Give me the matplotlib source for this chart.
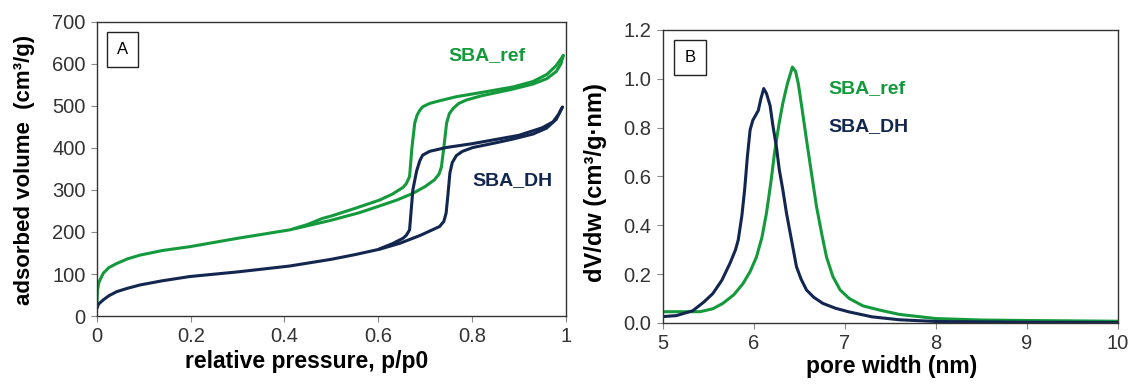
import matplotlib
matplotlib.use("Agg")
from matplotlib import pyplot as plt

plt.rcParams['font.family'] = ['Liberation Sans', 'DejaVu Sans']

GREEN = "#149a3c"
NAVY = "#12264f"

# isotherms (A) - adsorption and desorption branches
ref_ads_p = [0.0, 0.001, 0.004, 0.0135, 0.025, 0.042, 0.065, 0.092, 0.14, 0.198, 0.3, 0.411, 0.5, 0.56, 0.603, 0.64,
             0.674, 0.70, 0.72, 0.73, 0.735, 0.74, 0.746, 0.752, 0.76, 0.772, 0.788, 0.82, 0.887, 0.93, 0.96, 0.98, 0.99, 0.995]
ref_ads_v = [30, 60, 80, 102, 115, 125, 136, 145, 156, 165, 185, 205, 228, 246, 262, 276,
             292, 308, 324, 338, 355, 400, 459, 482, 494, 506, 514, 524, 540, 552, 565, 582, 600, 620]
ref_des_p = [0.995, 0.99, 0.98, 0.96, 0.93, 0.887, 0.82, 0.767, 0.73, 0.71, 0.695, 0.689, 0.683, 0.678, 0.672,
             0.667, 0.66, 0.653, 0.63, 0.603, 0.55, 0.5, 0.48, 0.45, 0.42]
ref_des_v = [620, 612, 596, 575, 558, 545, 532, 522, 512, 506, 498, 490, 478, 459, 400,
             332, 315, 306, 290, 276, 256, 238, 232, 218, 208]

dh_ads_p = [0.0, 0.003, 0.013, 0.025, 0.042, 0.065, 0.092, 0.14, 0.198, 0.3, 0.411, 0.5, 0.55, 0.603, 0.646, 0.69,
            0.731, 0.74, 0.745, 0.749, 0.753, 0.758, 0.767, 0.78, 0.802, 0.85, 0.887, 0.93, 0.959, 0.98, 0.993]
dh_ads_v = [18, 28, 38, 48, 58, 66, 74, 84, 94, 105, 119, 135, 146, 159, 173, 192,
            213, 225, 245, 290, 340, 365, 382, 392, 401, 412, 421, 433, 447, 468, 497]
dh_des_p = [0.993, 0.985, 0.973, 0.95, 0.9, 0.85, 0.8, 0.745, 0.71, 0.695, 0.689, 0.682, 0.674, 0.667, 0.66,
            0.653, 0.63, 0.603]
dh_des_v = [497, 480, 462, 448, 430, 420, 410, 401, 392, 383, 370, 345, 300, 205, 192,
            185, 172, 160]

# pore size distributions (B)
w_ref = [5.0, 5.41, 5.55, 5.66, 5.78, 5.88, 5.96, 6.03, 6.09, 6.14, 6.19, 6.23, 6.28, 6.32, 6.37, 6.425, 6.46, 6.49,
         6.53, 6.58, 6.64, 6.69, 6.75, 6.80, 6.87, 6.95, 7.05, 7.2, 7.38, 7.6, 8.0, 8.5, 9.0, 10.0]
dv_ref = [0.046, 0.046, 0.058, 0.08, 0.115, 0.16, 0.21, 0.27, 0.35, 0.45, 0.58, 0.70, 0.82, 0.90, 0.98, 1.048, 1.03, 0.98,
          0.88, 0.75, 0.60, 0.477, 0.36, 0.27, 0.19, 0.135, 0.10, 0.07, 0.053, 0.035, 0.018, 0.012, 0.01, 0.007]

w_dh = [5.0, 5.15, 5.33, 5.45, 5.55, 5.65, 5.74, 5.80, 5.83, 5.87, 5.90, 5.93, 5.96, 5.99, 6.05, 6.08, 6.11, 6.14,
        6.18, 6.21, 6.25, 6.28, 6.32, 6.36, 6.40, 6.44, 6.47, 6.52, 6.58, 6.66, 6.76, 6.9, 7.05, 7.3, 7.6, 8.0, 9.0, 10.0]
dv_dh = [0.026, 0.03, 0.05, 0.085, 0.12, 0.175, 0.245, 0.30, 0.34, 0.44, 0.545, 0.68, 0.79, 0.83, 0.87, 0.92, 0.96, 0.94,
         0.89, 0.81, 0.72, 0.63, 0.545, 0.45, 0.37, 0.29, 0.23, 0.18, 0.135, 0.105, 0.08, 0.06, 0.045, 0.025, 0.013, 0.006, 0.003, 0.002]

fig = plt.figure(figsize=(11.29, 3.84), dpi=100)
axA = fig.add_axes([0.0859, 0.177, 0.4151, 0.766])
axB = fig.add_axes([0.587, 0.159, 0.403, 0.763])

lw = 2.2
kw = dict(lw=lw, solid_joinstyle="round", solid_capstyle="round")
axA.plot(ref_ads_p, ref_ads_v, color=GREEN, **kw)
axA.plot(ref_des_p, ref_des_v, color=GREEN, **kw)
axA.plot(dh_ads_p, dh_ads_v, color=NAVY, **kw)
axA.plot(dh_des_p, dh_des_v, color=NAVY, **kw)
axA.set_xlim(0, 1)
axA.set_ylim(0, 700)
axA.set_xticks([0, 0.2, 0.4, 0.6, 0.8, 1])
axA.set_xticklabels(["0", "0.2", "0.4", "0.6", "0.8", "1"])
axA.set_yticks(range(0, 701, 100))
axA.set_xlabel("relative pressure, p/p0", fontsize=16.5, fontweight="bold")
axA.set_ylabel("adsorbed volume  (cm³/g)", fontsize=16, fontweight="bold")
axA.xaxis.set_label_coords(0.448, -0.115)
axA.yaxis.set_label_coords(-0.132, 0.495)
axA.text(0.75, 0.887, "SBA_ref", transform=axA.transAxes, color=GREEN, fontsize=14, fontweight="bold", va="center")
axA.text(0.802, 0.46, "SBA_DH", transform=axA.transAxes, color=NAVY, fontsize=14, fontweight="bold", va="center")
axA.text(0.055, 0.905, "A", transform=axA.transAxes, fontsize=12, ha="center", va="center",
         bbox=dict(boxstyle="square,pad=0.6", fc="white", ec="#222222", lw=1))

axB.plot(w_ref, dv_ref, color=GREEN, **kw)
axB.plot(w_dh, dv_dh, color=NAVY, **kw)
axB.set_xlim(5, 10)
axB.set_ylim(0, 1.2)
axB.set_xticks([5, 6, 7, 8, 9, 10])
axB.set_yticks([0, 0.2, 0.4, 0.6, 0.8, 1.0, 1.2])
axB.set_yticklabels(["0.0", "0.2", "0.4", "0.6", "0.8", "1.0", "1.2"])
axB.set_xlabel("pore width (nm)", fontsize=16.5, fontweight="bold")
axB.set_ylabel("dV/dw (cm³/g·nm)", fontsize=17, fontweight="bold")
axB.xaxis.set_label_coords(0.503, -0.11)
axB.yaxis.set_label_coords(-0.123, 0.48)
axB.text(0.365, 0.80, "SBA_ref", transform=axB.transAxes, color=GREEN, fontsize=14, fontweight="bold", va="center")
axB.text(0.365, 0.67, "SBA_DH", transform=axB.transAxes, color=NAVY, fontsize=14, fontweight="bold", va="center")
axB.text(0.06, 0.905, "B", transform=axB.transAxes, fontsize=12, ha="center", va="center",
         bbox=dict(boxstyle="square,pad=0.6", fc="white", ec="#222222", lw=1))

for ax in (axA, axB):
    for s in ax.spines.values():
        s.set_color("#333333")
        s.set_linewidth(1)
    ax.tick_params(direction="out", length=4, width=0.8, colors="#888888", labelcolor="#333333", labelsize=14.5, pad=4)

fig.savefig("out.png", dpi=100)
